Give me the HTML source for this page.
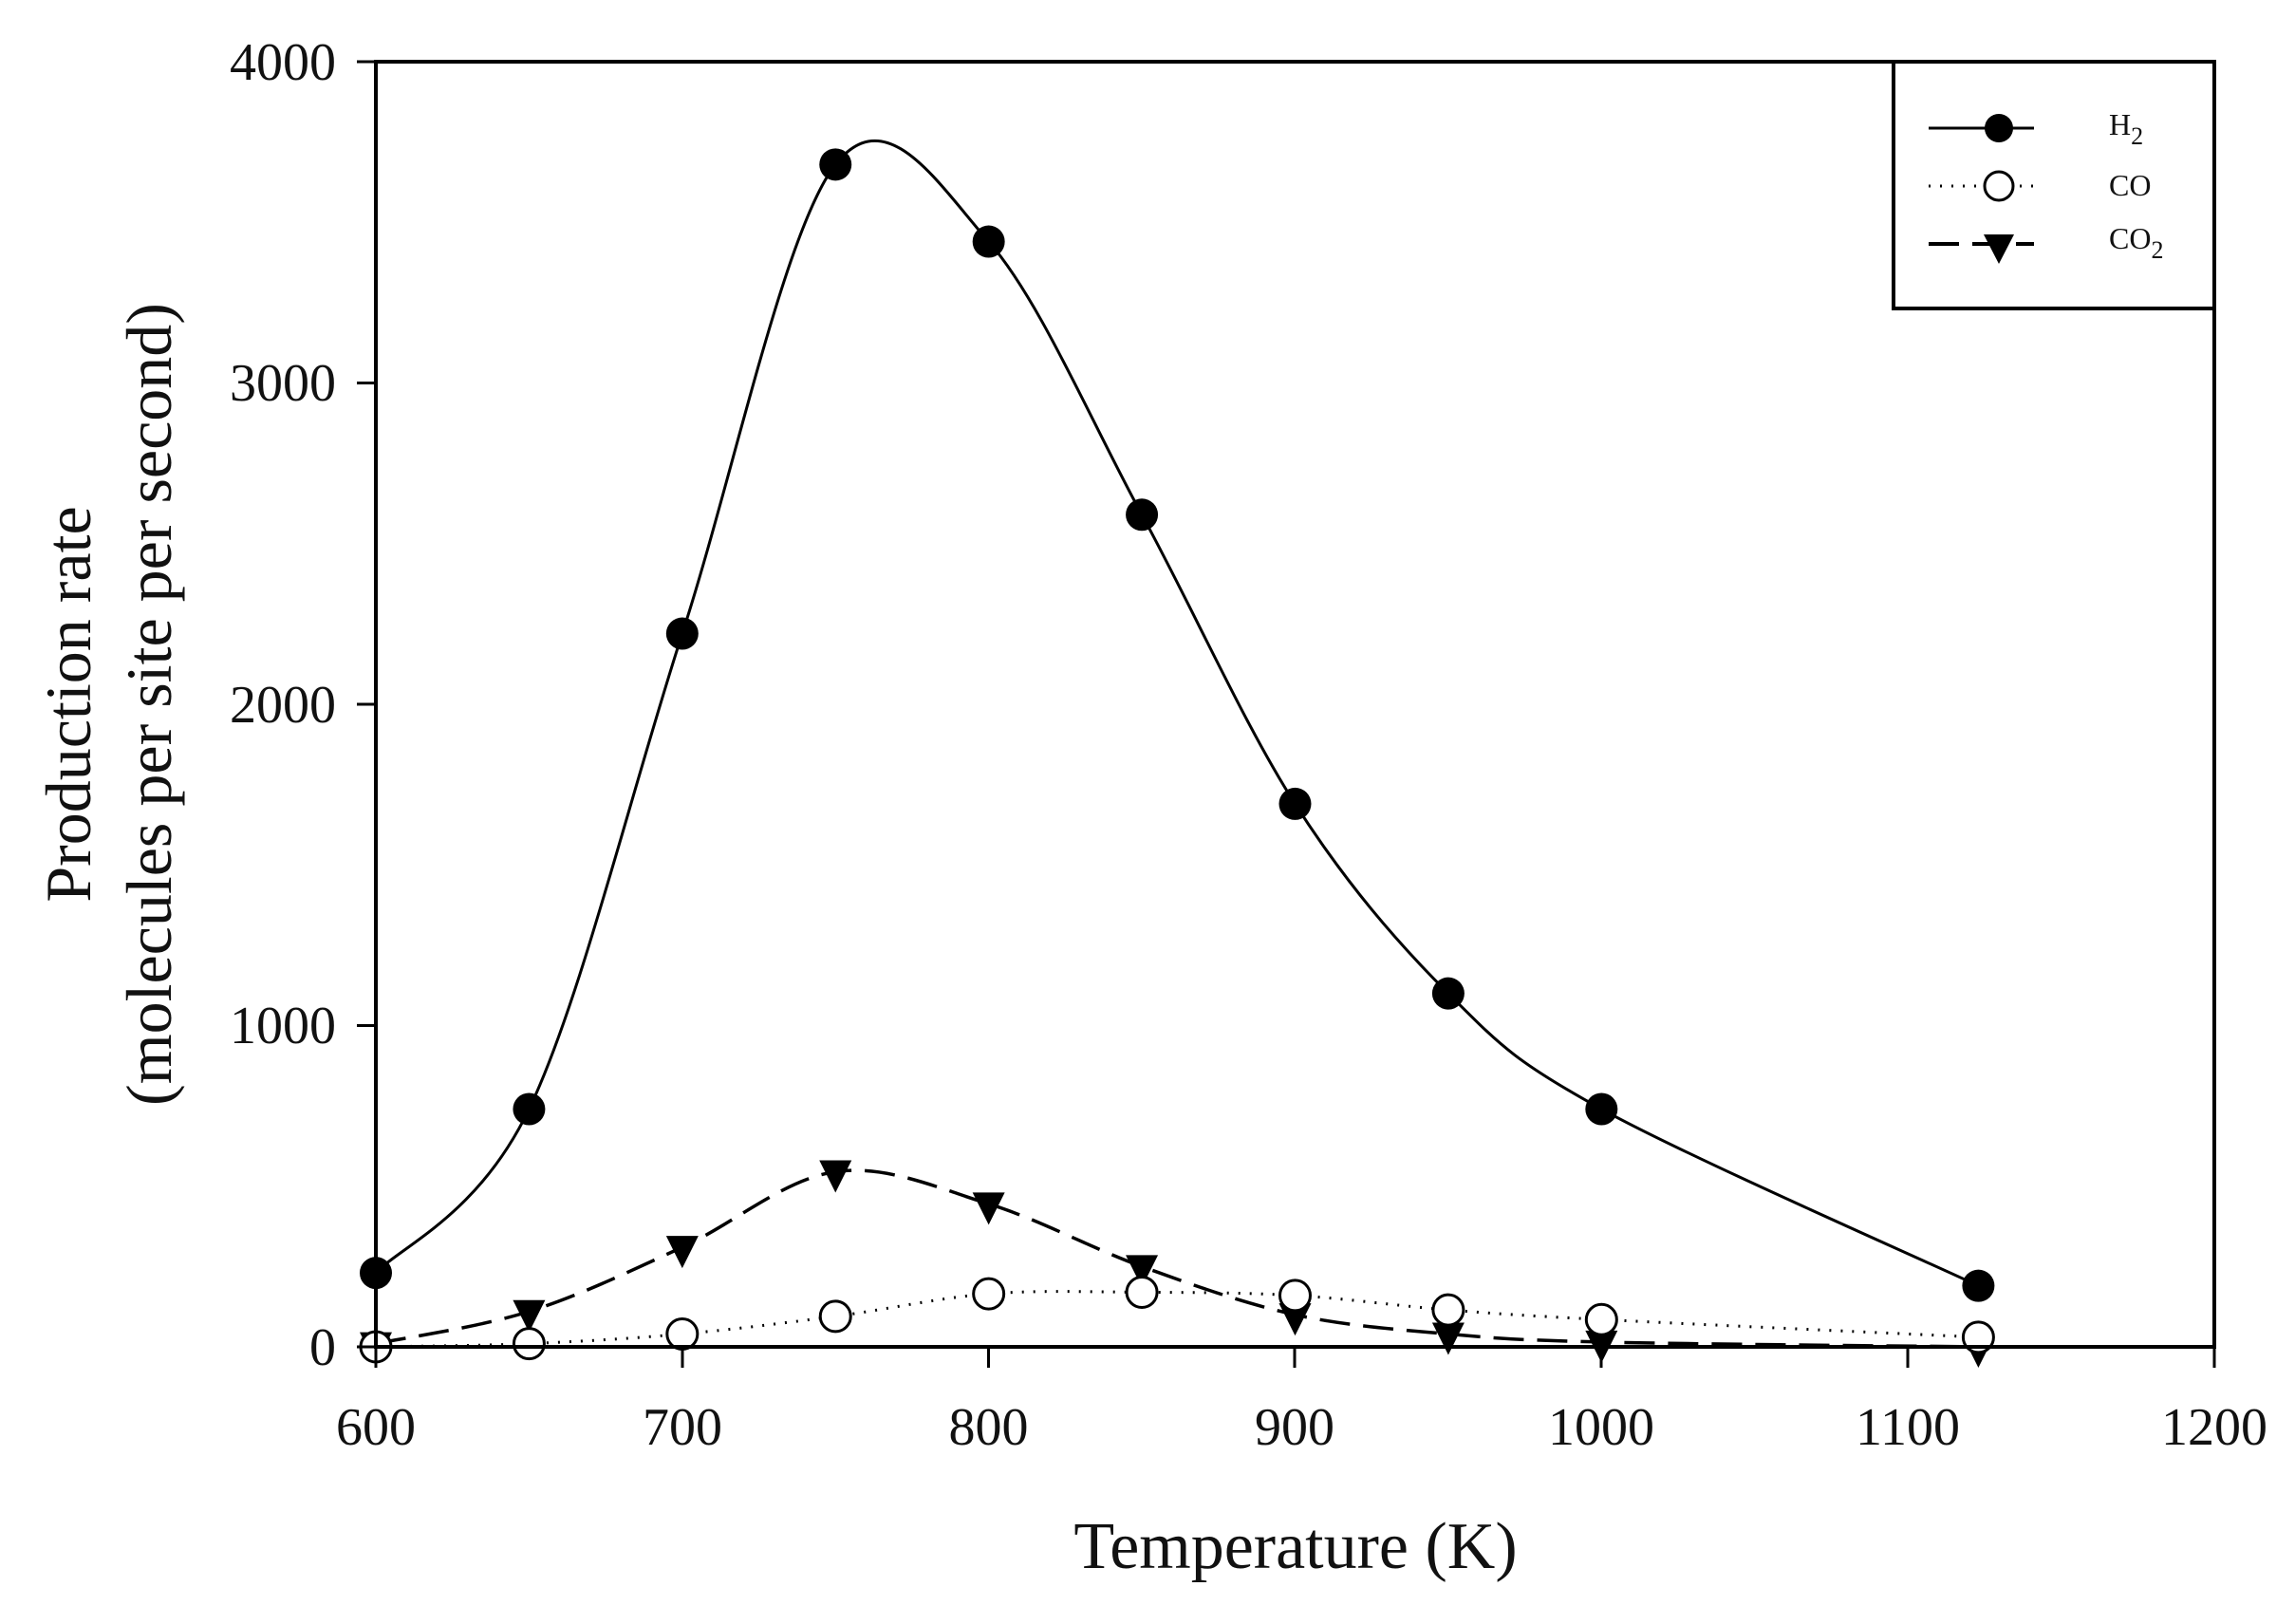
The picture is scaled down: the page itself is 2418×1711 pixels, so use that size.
<!DOCTYPE html>
<html><head><meta charset="utf-8"><style>
html,body{margin:0;padding:0;background:#fff;}
svg{display:block;font-family:"Liberation Serif",serif;}
</style></head><body>
<svg id="s" width="2418" height="1711" viewBox="0 0 2418 1711" xmlns="http://www.w3.org/2000/svg">
<rect width="2418" height="1711" fill="#fff"/>
<g id="g"></g>
<g stroke="#000" stroke-width="4" fill="none">
<rect x="396" y="65" width="1937" height="1354"/>
</g>
<g stroke="#000" stroke-width="3">
<line x1="376" y1="65" x2="396" y2="65"/>
<line x1="376" y1="403.5" x2="396" y2="403.5"/>
<line x1="376" y1="742" x2="396" y2="742"/>
<line x1="376" y1="1080.5" x2="396" y2="1080.5"/>
<line x1="376" y1="1419" x2="396" y2="1419"/>
<line x1="396" y1="1419" x2="396" y2="1441"/>
<line x1="719" y1="1419" x2="719" y2="1441"/>
<line x1="1041.5" y1="1419" x2="1041.5" y2="1441"/>
<line x1="1364" y1="1419" x2="1364" y2="1441"/>
<line x1="1687" y1="1419" x2="1687" y2="1441"/>
<line x1="2010" y1="1419" x2="2010" y2="1441"/>
<line x1="2333" y1="1419" x2="2333" y2="1441"/>
</g>
<g font-size="56" text-anchor="end" fill="#111">
<text x="354" y="84">4000</text>
<text x="354" y="422">3000</text>
<text x="354" y="761">2000</text>
<text x="354" y="1099">1000</text>
<text x="354" y="1438">0</text>
</g>
<g font-size="56" text-anchor="middle" fill="#111">
<text x="396" y="1522">600</text>
<text x="719" y="1522">700</text>
<text x="1041.5" y="1522">800</text>
<text x="1364" y="1522">900</text>
<text x="1687" y="1522">1000</text>
<text x="2010" y="1522">1100</text>
<text x="2333" y="1522">1200</text>
</g>
<text x="1365" y="1652" font-size="70" text-anchor="middle" fill="#111">Temperature (K)</text>
<g font-size="68" text-anchor="middle" fill="#111">
<text transform="translate(95,742) rotate(-90)">Production rate</text>
<text transform="translate(180,742) rotate(-90)">(molecules per site per second)</text>
</g>
<rect x="1995" y="65" width="338" height="260" fill="#fff" stroke="#000" stroke-width="4"/>
<line x1="2032" y1="135" x2="2143" y2="135" stroke="#000" stroke-width="3"/>
<circle cx="2106" cy="135" r="15" fill="#000"/>
<line x1="2032" y1="196" x2="2143" y2="196" stroke="#000" stroke-width="3" stroke-dasharray="2,10"/>
<circle cx="2106" cy="196" r="15" fill="#fff" stroke="#000" stroke-width="3"/>
<line x1="2032" y1="257" x2="2143" y2="257" stroke="#000" stroke-width="4" stroke-dasharray="32,14"/>
<polygon points="2090,247 2122,247 2106,278" fill="#000"/>
<g font-size="32" fill="#111">
<text x="2222" y="142">H<tspan font-size="26" dy="10">2</tspan></text>
<text x="2222" y="206">CO</text>
<text x="2222" y="262">CO<tspan font-size="26" dy="10">2</tspan></text>
</g>
</svg>
<script>
var X=function(t){return 396+(t-600)*3.2283;},Y=function(v){return 1419-v*0.3385;};
var xs=[600,650,700,750,800,850,900,950,1000,1123];
var H=[230,740,2220,3680,3440,2590,1690,1100,740,190];
var C=[0,10,40,95,165,170,160,115,85,30];
var D=[10,110,310,545,445,250,100,40,15,0];
function path(v){var p=xs.map(function(x,i){return [X(x),Y(v[i])];});
var d="M"+p[0][0]+","+p[0][1];
for(var i=0;i<p.length-1;i++){var p0=p[i-1]||p[i],p1=p[i],p2=p[i+1],p3=p[i+2]||p2;
var c1=[p1[0]+(p2[0]-p0[0])/6,p1[1]+(p2[1]-p0[1])/6],c2=[p2[0]-(p3[0]-p1[0])/6,p2[1]-(p3[1]-p1[1])/6];
d+=" C"+c1+" "+c2+" "+p2;}return [d,p];}
var g=document.getElementById("g"),h="";
var a=path(H),b=path(C),c=path(D);
h+='<path d="'+b[0]+'" fill="none" stroke="#000" stroke-width="3" stroke-dasharray="2,10"/>';
h+='<path d="'+c[0]+'" fill="none" stroke="#000" stroke-width="3.5" stroke-dasharray="32,14"/>';
h+='<path d="'+a[0]+'" fill="none" stroke="#000" stroke-width="3"/>';
c[1].forEach(function(p){h+='<polygon points="'+(p[0]-17)+','+(p[1]-12)+' '+(p[0]+17)+','+(p[1]-12)+' '+p[0]+','+(p[1]+22)+'" fill="#000"/>';});
b[1].forEach(function(p){h+='<circle cx="'+p[0]+'" cy="'+p[1]+'" r="16" fill="#fff" stroke="#000" stroke-width="3"/>';});
a[1].forEach(function(p){h+='<circle cx="'+p[0]+'" cy="'+p[1]+'" r="17" fill="#000"/>';});
g.innerHTML=h;
</script>
</body></html>
